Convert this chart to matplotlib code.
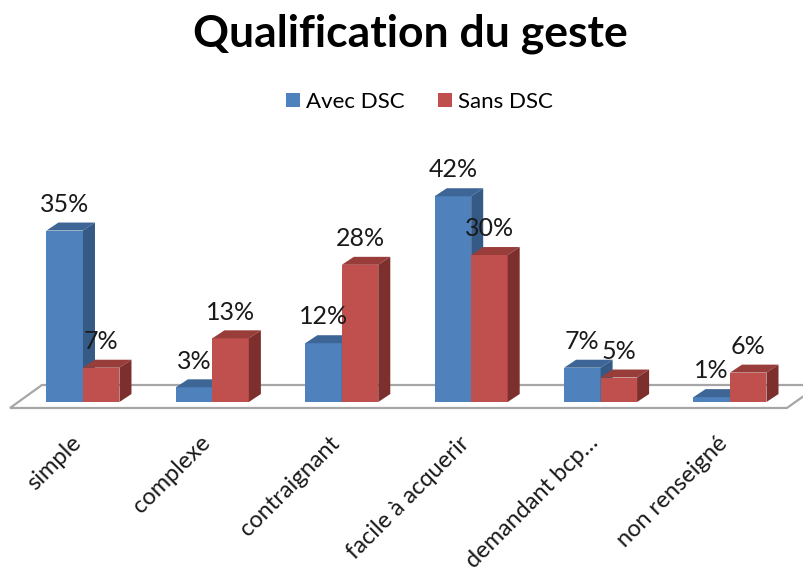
import matplotlib
matplotlib.use('Agg')
import matplotlib.pyplot as plt
from matplotlib.patches import Polygon, Patch
from matplotlib.transforms import ScaledTranslation

plt.rcParams['font.family'] = ['Lato', 'DejaVu Sans']

# Data
categories = ['simple', 'complexe', 'contraignant', 'facile à acquerir',
              'demandant bcp…', 'non renseigné']
avec_dsc = [35, 3, 12, 42, 7, 1]
sans_dsc = [7, 13, 28, 30, 5, 6]
series_names = ['Avec DSC', 'Sans DSC']

# colours: front, side, top
blue = ('#4F81BD', '#355A86', '#3D6696')
red = ('#C0504D', '#7D2F2D', '#983D3A')

bar_w = 0.282      # width of one bar in category units
dx, dy = 0.093, 1.63  # depth offset of the 3D faces (x units, % units)


def bar3d(ax, x0, h, cols):
    front, side, top = cols
    ax.add_patch(Polygon([(x0, 0), (x0 + bar_w, 0), (x0 + bar_w, h), (x0, h)],
                         closed=True, facecolor=front, edgecolor='none', clip_on=False))
    ax.add_patch(Polygon([(x0, h), (x0 + bar_w, h), (x0 + bar_w + dx, h + dy), (x0 + dx, h + dy)],
                         closed=True, facecolor=top, edgecolor='none', clip_on=False))
    ax.add_patch(Polygon([(x0 + bar_w, 0), (x0 + bar_w + dx, dy), (x0 + bar_w + dx, h + dy), (x0 + bar_w, h)],
                         closed=True, facecolor=side, edgecolor='none', clip_on=False))
    ax.text(x0 + bar_w / 2, h + dy + 2.2, f'{h}%', ha='center', va='baseline',
            fontsize=18, color='#1a1a1a')


fig = plt.figure(figsize=(8.04, 5.72), dpi=100)
ax = fig.add_axes([0, 0.2832, 1, 0.472])
ax.set_xlim(-0.641, 5.572)
ax.set_ylim(-1.633, 53.47)

# floor of the 3D chart
floor = Polygon([(-0.564, -1.22), (-0.317, 3.47), (5.69, 3.47), (5.44, -1.22)],
                closed=True, facecolor='white', edgecolor='#A6A6A6', lw=1.6, clip_on=False)
ax.add_patch(floor)

for i in range(len(categories)):
    bar3d(ax, i - bar_w, avec_dsc[i], blue)
    bar3d(ax, i, sans_dsc[i], red)

for s in ax.spines.values():
    s.set_visible(False)
ax.set_yticks([])
ax.set_xticks(range(len(categories)))
ax.set_xticklabels(categories, rotation=45, ha='right', rotation_mode='anchor',
                   fontsize=17, color='#1a1a1a')
ax.tick_params(axis='x', length=0, pad=16)
for lab in ax.get_xticklabels():
    lab.set_transform(lab.get_transform() + ScaledTranslation(-13 / 100, 0, fig.dpi_scale_trans))

fig.text(0.511, 0.918, 'Qualification du geste', ha='center', va='baseline',
         fontsize=32, fontweight='bold')

handles = [Patch(facecolor=blue[0]), Patch(facecolor=red[0])]
fig.legend(handles, series_names, loc='center', bbox_to_anchor=(0.522, 0.8217), ncol=2,
           frameon=False, fontsize=16, handlelength=0.6, handleheight=0.6,
           handletextpad=0.3, columnspacing=1.5)

fig.savefig('out.png', dpi=100)
